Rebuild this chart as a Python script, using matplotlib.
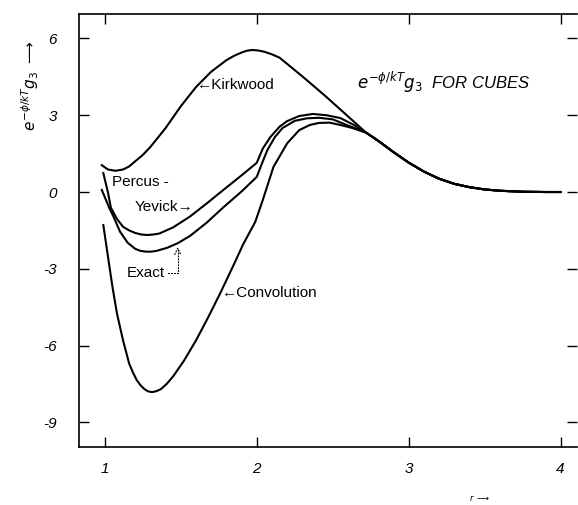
import matplotlib.pyplot as plt
import numpy as np

plt.rcParams['font.family'] = ['Liberation Sans', 'DejaVu Sans']
plt.rcParams['mathtext.fontset'] = 'dejavusans'

# common tail, all four curves merge past r ~ 2.7
tail_r = [2.72, 2.80, 2.90, 3.00, 3.10, 3.20, 3.30, 3.40, 3.50, 3.60, 3.75, 3.90, 4.00]
tail_g = [2.32, 2.00, 1.56, 1.15, 0.80, 0.52, 0.32, 0.19, 0.10, 0.05, 0.01, 0.00, 0.00]

kirk_r = [0.98, 1.02, 1.07, 1.12, 1.16, 1.20, 1.25, 1.30, 1.40, 1.50, 1.60, 1.70, 1.80, 1.85,
          1.90, 1.935, 1.97, 2.01, 2.05, 2.10, 2.15, 2.30, 2.45, 2.60]
kirk_g = [1.05, 0.88, 0.83, 0.88, 1.00, 1.20, 1.45, 1.76, 2.50, 3.35, 4.10, 4.70, 5.15, 5.32,
          5.45, 5.52, 5.55, 5.53, 5.48, 5.38, 5.25, 4.52, 3.76, 2.96]

py_r = [0.99, 1.02, 1.04, 1.08, 1.12, 1.16, 1.20, 1.24, 1.28, 1.32, 1.36, 1.45, 1.56, 1.67,
        1.78, 1.90, 2.00, 2.04, 2.09, 2.15, 2.20, 2.28, 2.37, 2.46, 2.55, 2.64]
py_g = [0.74, 0.00, -0.62, -1.05, -1.36, -1.50, -1.60, -1.66, -1.68, -1.66, -1.62, -1.38, -0.96,
        -0.45, 0.08, 0.65, 1.14, 1.70, 2.15, 2.55, 2.77, 2.97, 3.05, 3.00, 2.89, 2.62]

exact_r = [0.98, 1.03, 1.06, 1.10, 1.15, 1.20, 1.235, 1.27, 1.305, 1.34, 1.41, 1.48, 1.56,
           1.67, 1.78, 1.90, 2.00, 2.04, 2.07, 2.12, 2.17, 2.25, 2.33, 2.41, 2.50, 2.60]
exact_g = [0.08, -0.63, -1.00, -1.55, -1.98, -2.22, -2.30, -2.33, -2.33, -2.30, -2.18, -2.00,
           -1.72, -1.20, -0.60, 0.02, 0.59, 1.20, 1.64, 2.15, 2.50, 2.78, 2.88, 2.90, 2.84, 2.60]

conv_r = [0.99, 1.02, 1.05, 1.08, 1.12, 1.16, 1.185, 1.21, 1.235, 1.26, 1.285, 1.31, 1.34,
          1.37, 1.41, 1.45, 1.52, 1.60, 1.68, 1.76, 1.84, 1.91, 1.99, 2.04, 2.11, 2.20, 2.28,
          2.35, 2.41, 2.48, 2.55, 2.63]
conv_g = [-1.29, -2.50, -3.70, -4.75, -5.80, -6.70, -7.05, -7.35, -7.55, -7.70, -7.79, -7.82,
          -7.78, -7.70, -7.48, -7.20, -6.60, -5.80, -4.90, -3.95, -2.95, -2.05, -1.17, -0.31,
          0.98, 1.90, 2.42, 2.62, 2.70, 2.71, 2.62, 2.50]

yticks = [6, 3, 0, -3, -6, -9]
ytick_labels = ['6', '3', '0', '-3', '-6', '-9']
xticks = [1, 2, 3, 4]
xtick_labels = ['1', '2', '3', '4']

fig = plt.figure(figsize=(5.78, 5.05), dpi=100)
ax = fig.add_axes([0.1367, 0.115, 0.862, 0.857])

for r, g in [(kirk_r, kirk_g), (py_r, py_g), (exact_r, exact_g), (conv_r, conv_g)]:
    ax.plot(r + tail_r, g + tail_g, color='black', lw=1.5, solid_joinstyle='round')

ax.set_xlim(0.83, 4.11)
ax.set_ylim(-9.96, 6.95)
ax.set_xticks(xticks)
ax.set_xticklabels(xtick_labels, style='italic')
ax.set_yticks(yticks)
ax.set_yticklabels(ytick_labels, style='italic')
ax.tick_params(axis='both', direction='in', length=7, width=1, top=True, right=True,
               labelsize=11)
ax.tick_params(axis='y', pad=16)
ax.tick_params(axis='x', pad=11)
ax.spines['right'].set_visible(False)
for s in ['left', 'top', 'bottom']:
    ax.spines[s].set_linewidth(1.2)

# curve labels
ax.text(1.605, 4.18, '\u2190Kirkwood', fontsize=11, va='center', ha='left')
ax.text(1.77, -3.95, '\u2190Convolution', fontsize=11, va='center', ha='left')
ax.text(1.046, 0.39, 'Percus -', fontsize=11, va='center', ha='left')
ax.text(1.197, -0.59, 'Yevick\u2192', fontsize=11, va='center', ha='left')
ax.annotate('Exact', xy=(1.48, -2.15), xytext=(1.145, -3.16), fontsize=11,
            va='center', ha='left',
            arrowprops=dict(arrowstyle='->', lw=0.8, linestyle=':',
                            connectionstyle='angle,angleA=0,angleB=90,rad=0',
                            shrinkA=0, shrinkB=0))

ax.text(2.66, 4.05, r'$e^{-\phi/kT}g_3$  FOR CUBES', fontsize=12, style='italic',
        ha='left', va='baseline')

fig.text(0.052, 0.83, r'$e^{-\phi/kT}g_3\ \longrightarrow$', rotation=90,
         fontsize=11, ha='center', va='center')
fig.text(0.83, 0.014, r'$r$ $\longrightarrow$', fontsize=6, ha='center', va='center')

fig.savefig('out.png', dpi=100)
